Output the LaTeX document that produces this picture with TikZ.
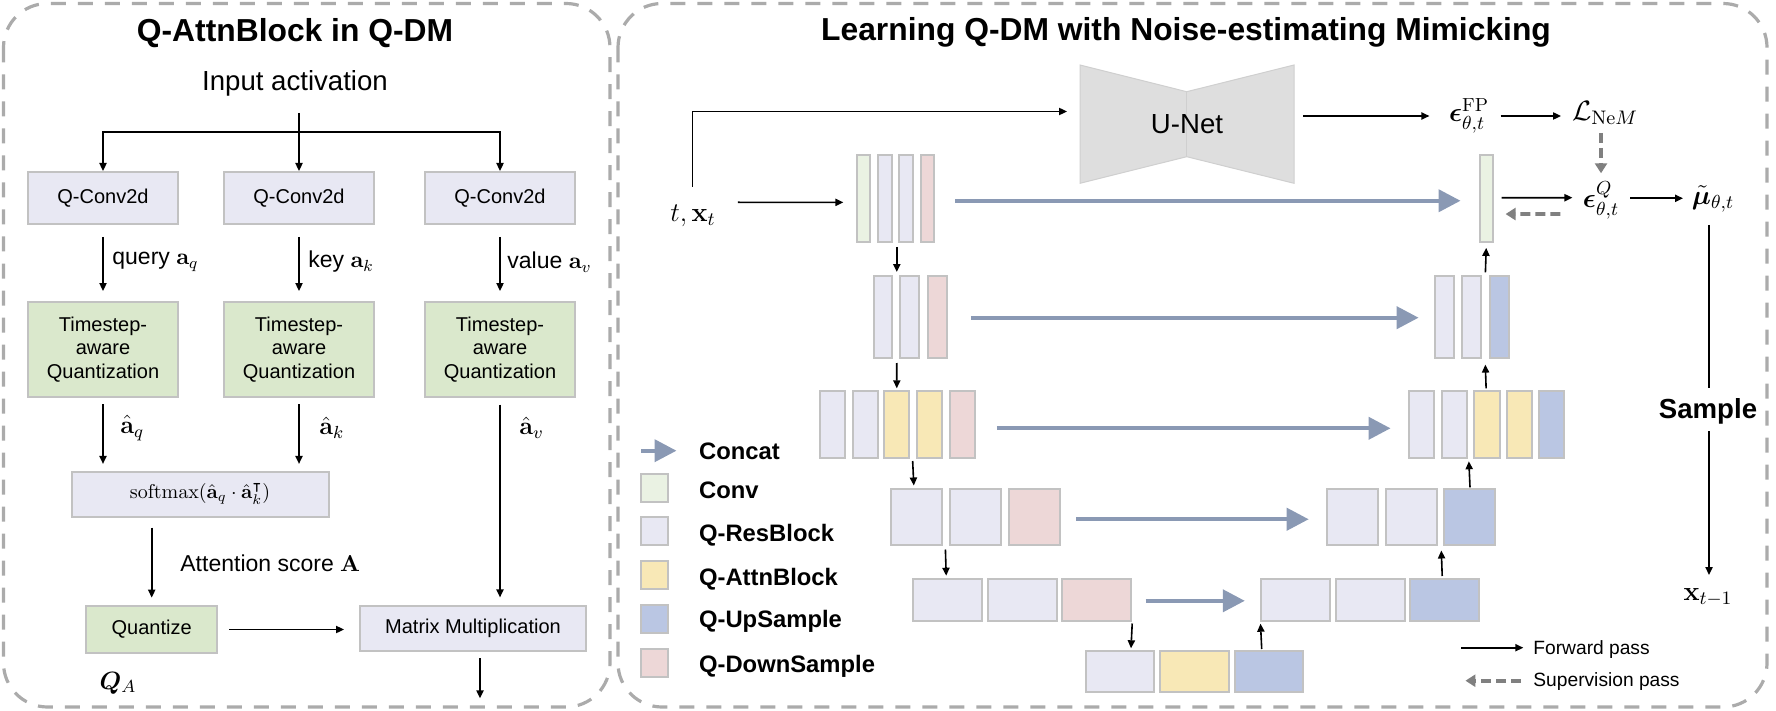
\RequirePackage{fix-cm}
\documentclass[tikz,border=0pt]{standalone}
\usepackage{amsmath,amssymb,bm}
\usepackage[no-math]{fontspec}
\setmainfont{Liberation Sans}
\usetikzlibrary{arrows.meta,calc}
\definecolor{bgray}{HTML}{C2C2C2}
\definecolor{pgray}{HTML}{ABABAB}
\definecolor{resc}{HTML}{E8E8F3}
\definecolor{convc}{HTML}{EAF2E3}
\definecolor{attnc}{HTML}{F8E8B6}
\definecolor{upc}{HTML}{BAC6E3}
\definecolor{downc}{HTML}{EDD7D7}
\definecolor{tqc}{HTML}{DAE8CC}
\definecolor{catc}{HTML}{8A99B4}
\definecolor{supc}{HTML}{808080}
\definecolor{unetc}{HTML}{DEDEDE}
\definecolor{unetl}{HTML}{CFCFCF}
\newcommand\ublk[6]{\node[blk,fill=#2,minimum width=#3pt,minimum height=#4pt] (#1) at (#5,#6) {};}
\begin{document}
\begin{tikzpicture}[x=0.5pt,y=-0.5pt,
  box/.style={draw=bgray,line width=1pt,inner sep=0pt,align=center,font=\fontsize{10}{11.75}\selectfont},
  blk/.style={draw=bgray,line width=1pt,inner sep=0pt},
  arr/.style={-{Triangle[length=4pt,width=3.6pt]},line width=0.8pt},
  ln/.style={line width=0.8pt},
  cat/.style={-{Triangle[length=11pt,width=11pt]},line width=2pt,draw=catc},
  sup/.style={-{Triangle[length=5pt,width=6pt]},line width=1.8pt,draw=supc,dash pattern=on 5pt off 2.5pt},
  panel/.style={draw=pgray,line width=1.6pt,dash pattern=on 7.5pt off 6pt,rounded corners=22pt},
  lbl/.style={inner sep=0pt,anchor=west,font=\fontsize{11.5}{13}\selectfont},
  ttl/.style={inner sep=0pt,font=\bfseries\fontsize{15.9}{18}\selectfont},
  mth/.style={inner sep=0pt,font=\fontsize{13.5}{15}\selectfont},
  leg/.style={inner sep=0pt,anchor=west,font=\bfseries\fontsize{11.9}{14}\selectfont},
  sleg/.style={inner sep=0pt,anchor=west,font=\fontsize{9.6}{11}\selectfont}]
\useasboundingbox (0,0) rectangle (1776,711);

% panels
\draw[panel] (3.5,3.5) rectangle (610,707);
\draw[panel] (618,3.5) rectangle (1767,707);

% ---------------- left panel ----------------
\node[ttl] (lt) at (295,33) {Q-AttnBlock in Q-DM};
\node[inner sep=0pt,font=\fontsize{13.8}{16}\selectfont] (inp) at (295,83) {Input activation};
\node[box,fill=resc,minimum width=75pt,minimum height=26pt] (cq) at (103,198) {Q-Conv2d};
\node[box,fill=resc,minimum width=75pt,minimum height=26pt] (ck) at (299,198) {Q-Conv2d};
\node[box,fill=resc,minimum width=75pt,minimum height=26pt] (cv) at (500,198) {Q-Conv2d};
\node[box,fill=tqc,minimum width=75pt,minimum height=47.5pt] (tq) at (103,349.5) {Timestep-\\aware\\Quantization};
\node[box,fill=tqc,minimum width=75pt,minimum height=47.5pt] (tk) at (299,349.5) {Timestep-\\aware\\Quantization};
\node[box,fill=tqc,minimum width=75pt,minimum height=47.5pt] (tv) at (500,349.5) {Timestep-\\aware\\Quantization};
\node[box,fill=resc,minimum width=128.5pt,minimum height=22.5pt] (sm) at (200,494) {$\mathrm{softmax}(\hat{\mathbf{a}}_q\cdot\hat{\mathbf{a}}_k^{\intercal})$};
\node[box,fill=tqc,minimum width=65.3pt,minimum height=23.5pt] (qz) at (151.7,629.5) {Quantize};
\node[box,fill=resc,minimum width=113pt,minimum height=22.5pt] (mm) at (473,628.5) {Matrix Multiplication};

\coordinate (sp) at (299,132);
\draw[ln] ($(inp)+(4,30)$) -- (sp);
\draw[arr] (sp) -| (cq.north);
\draw[arr] (sp) -- (ck.north);
\draw[arr] (sp) -| (cv.north);
\draw[arr,shorten <=6pt,shorten >=5pt] (cq) -- (tq);
\draw[arr,shorten <=6pt,shorten >=5pt] (ck) -- (tk);
\draw[arr,shorten <=6pt,shorten >=5pt] (cv) -- (tv);
\node[lbl] (lq) at (112,262) {query $\mathbf{a}_q$};
\node[lbl] (lk) at (308,262) {key $\mathbf{a}_k$};
\node[lbl] (lv) at (507,262) {value $\mathbf{a}_v$};
\draw[arr,shorten <=3pt,shorten >=3.3pt] (tq.south) -- (tq.south |- sm.north);
\draw[arr,shorten <=3pt,shorten >=3.3pt] (tk.south) -- (tk.south |- sm.north);
\draw[arr,shorten <=3.3pt,shorten >=3.8pt] (tv.south) -- (tv.south |- mm.north);
\node[inner sep=0pt,anchor=west,font=\fontsize{12.5}{14}\selectfont] (hq) at (120,428) {$\hat{\mathbf{a}}_q$};
\node[inner sep=0pt,anchor=west,font=\fontsize{12.5}{14}\selectfont] (hk) at (319,428) {$\hat{\mathbf{a}}_k$};
\node[inner sep=0pt,anchor=west,font=\fontsize{12.5}{14}\selectfont] (hv) at (519,428) {$\hat{\mathbf{a}}_v$};
\draw[arr,shorten <=5pt,shorten >=3.7pt] (qz.north |- sm.south) -- (qz.north);
\node[lbl] (as) at (180,563) {Attention score $\mathbf{A}$};
\draw[arr,shorten <=5.5pt,shorten >=7.5pt] (qz.east) -- (qz.east -| mm.west);
\coordinate (mo) at (480,698.3);
\draw[arr,shorten <=3pt] (mo |- mm.south) -- (mo);
\node[inner sep=0pt,font=\fontsize{12.5}{14}\selectfont] (qa) at (118,683) {$\bm{Q}_{A}$};

% ---------------- right panel ----------------
\node[ttl] (rt) at (1186,32) {Learning Q-DM with Noise-estimating Mimicking};
\node[mth] (tx) at (693,216) {$t,\mathbf{x}_t$};

% U-Net
\fill[unetc] (1080,65) -- (1186.7,91.7) -- (1294,65) -- (1294,183.3) -- (1186.7,156.7) -- (1080,183.3) -- cycle;
\draw[unetl,line width=0.5pt] (1080,65) -- (1186.7,91.7) -- (1294,65) -- (1294,183.3) -- (1186.7,156.7) -- (1080,183.3) -- cycle;
\draw[unetl,line width=0.5pt] (1186.7,91.7) -- (1186.7,156.7);
\node[inner sep=0pt,minimum width=107pt,minimum height=59pt,font=\fontsize{13.8}{16}\selectfont] (unet) at (1187,124.2) {U-Net};

% blocks: encoder
\ublk{e11}{convc}{6.75}{43.35}{863.5}{198.35}
\ublk{e12}{resc}{6.75}{43.35}{884.8}{198.35}
\ublk{e13}{resc}{6.75}{43.35}{906.2}{198.35}
\ublk{e14}{downc}{6.75}{43.35}{927.3}{198.35}
\ublk{e21}{resc}{9.4}{41.3}{883}{317}
\ublk{e22}{resc}{9.4}{41.3}{909.8}{317}
\ublk{e23}{downc}{9.4}{41.3}{937.6}{317}
\ublk{e31}{resc}{12.65}{33.8}{832.5}{424.5}
\ublk{e32}{resc}{12.65}{33.8}{865.2}{424.5}
\ublk{e33}{attnc}{12.65}{33.8}{896.8}{424.5}
\ublk{e34}{attnc}{12.65}{33.8}{929.4}{424.5}
\ublk{e35}{downc}{12.65}{33.8}{962.2}{424.5}
\ublk{e41}{resc}{25.5}{27.85}{916}{517.15}
\ublk{e42}{resc}{25.5}{27.85}{975.1}{517.15}
\ublk{e43}{downc}{25.5}{27.85}{1034}{517.15}
\ublk{e51}{resc}{34.5}{21}{947.4}{600}
\ublk{e52}{resc}{34.5}{21}{1022}{600}
\ublk{e53}{downc}{34.5}{21}{1096.7}{600}
% bottom
\ublk{b1}{resc}{34.25}{20.75}{1120.2}{671.25}
\ublk{b2}{attnc}{34.25}{20.75}{1194.7}{671.25}
\ublk{b3}{upc}{34.25}{20.75}{1268.8}{671.25}
% decoder
\ublk{d51}{resc}{34.5}{21}{1295.6}{600}
\ublk{d52}{resc}{34.5}{21}{1370}{600}
\ublk{d53}{upc}{34.5}{21}{1444.6}{600}
\ublk{d41}{resc}{25.5}{27.85}{1352.7}{517.15}
\ublk{d42}{resc}{25.5}{27.85}{1411}{517.15}
\ublk{d43}{upc}{25.5}{27.85}{1469.7}{517.15}
\ublk{d31}{resc}{12.65}{33.8}{1421.4}{424.5}
\ublk{d32}{resc}{12.65}{33.8}{1454.4}{424.5}
\ublk{d33}{attnc}{12.65}{33.8}{1487.1}{424.5}
\ublk{d34}{attnc}{12.65}{33.8}{1519.2}{424.5}
\ublk{d35}{upc}{12.65}{33.8}{1551.2}{424.5}
\ublk{d21}{resc}{9.4}{41.3}{1444.7}{317}
\ublk{d22}{resc}{9.4}{41.3}{1471.8}{317}
\ublk{d23}{upc}{9.4}{41.3}{1499.4}{317}
\ublk{d11}{convc}{6.75}{43.35}{1486.3}{198.35}

% concat arrows
\draw[cat] ($(e14.east)+(20,2.4)$) -- ($(d11.west)+(-18,2.4)$);
\draw[cat] ($(e23.east)+(22.8,0.7)$) -- ($(d21.west)+(-15.7,0.7)$);
\draw[cat] ($(e35.east)+(21,3.8)$) -- ($(d31.west)+(-17.2,3.8)$);
\draw[cat] ($(e43.east)+(15.5,2.1)$) -- ($(d41.west)+(-17.5,2.1)$);
\draw[cat] ($(e53.east)+(13.3,0.8)$) -- ($(d51.west)+(-15.3,0.8)$);

% vertical arrows
\draw[arr] ($(e13.south)+(-9.4,4.3)$) -- ($(e21.north)+(13.8,-2.7)$);
\draw[arr] ($(e22.south)+(-13.1,3.7)$) -- ($(e33.north)+(0,-1.4)$);
\draw[arr] ($(e34.south west)+(-3.1,1.7)$) -- ($(e41.north)+(-2.2,-2.8)$);
\draw[arr] ($(e42.south west)+(-3.2,3.5)$) -- ($(e51.north)+(-1.2,-2.3)$);
\draw[arr] ($(e53.south east)+(0,1.5)$) -- ($(b1.north)+(10.8,-1.2)$);
\draw[arr] ($(b3.north)+(-7.1,-0.5)$) -- ($(d51.south west)+(0.4,1.7)$);
\draw[arr] ($(d53.north)+(-2.4,-2)$) -- ($(d43.south west)+(-1.9,4.5)$);
\draw[arr] ($(d43.north)+(0.3,-1)$) -- ($(d33.south west)+(-4.6,2)$);
\draw[arr] ($(d33.north)+(-1,-1.4)$) -- ($(d23.south west)+(-3.7,5.3)$);
\draw[arr] ($(d23.north west)+(-3.6,-2.4)$) -- ($(d11.south)+(-0.1,5.2)$);

% inputs
\coordinate (tu) at (1067,111.5);
\draw[arr] ($(tx)+(-0.7,-29)$) |- (tu);
\draw[arr] ($(tx)+(44.8,-13.7)$) -- ($(e11.west)+(-12.4,4)$);

% outputs
\node[mth] (efp) at (1469,116) {$\bm{\epsilon}^{\mathrm{FP}}_{\theta,t}$};
\node[inner sep=0pt,font=\fontsize{14}{16}\selectfont] (lnem) at (1605,113) {$\mathcal{L}_{\mathrm{Ne}M}$};
\node[mth] (eq) at (1601,200) {$\bm{\epsilon}^{Q}_{\theta,t}$};
\node[mth] (mu) at (1713,199) {$\tilde{\bm{\mu}}_{\theta,t}$};
\node[inner sep=0pt,font=\bfseries\fontsize{13.8}{16}\selectfont] (samp) at (1708,411) {Sample};
\node[mth] (xt1) at (1708,597) {$\mathbf{x}_{t-1}$};

\draw[arr] ($(unet.east)+(9,-8.2)$) -- ($(efp)+(-39.6,0)$);
\draw[arr] ($(efp)+(31.5,0)$) -- ($(lnem)+(-44,3)$);
\draw[sup] ($(lnem)+(-4,20)$) -- ($(eq)+(0,-26.7)$);
\draw[arr] ($(d11.east)+(7.5,-0.6)$) -- ($(eq)+(-28.6,-2.3)$);
\draw[sup] ($(eq)+(-40.6,14)$) -- ($(d11.east)+(11.5,15.7)$);
\draw[arr] ($(eq)+(29,-1.7)$) -- ($(mu)+(-30,-0.7)$);
\draw[ln] ($(mu)+(-4,26)$) -- ($(samp)+(1,-23)$);
\draw[arr] ($(samp)+(1,20)$) -- ($(xt1)+(1,-22)$);

% legend
\coordinate (lca) at (641,450.7);
\draw[cat] (lca) -- ++(35.5,0);
\node[leg] (l1) at (698.7,451.7) {Concat};
\node[blk,fill=convc,minimum width=13.5pt,minimum height=14pt] (s2) at (654.5,487.5) {};
\node[leg] (l2) at (698.7,490.7) {Conv};
\node[blk,fill=resc,minimum width=13.5pt,minimum height=14pt] (s3) at (654.5,531.3) {};
\node[leg] (l3) at (698.7,535) {Q-ResBlock};
\node[blk,fill=attnc,minimum width=13.5pt,minimum height=14pt] (s4) at (654.5,575) {};
\node[leg] (l4) at (698.7,579.3) {Q-AttnBlock};
\node[blk,fill=upc,minimum width=13.5pt,minimum height=14pt] (s5) at (654.5,619) {};
\node[leg] (l5) at (698.7,621.7) {Q-UpSample};
\node[blk,fill=downc,minimum width=13.5pt,minimum height=14pt] (s6) at (654.5,663) {};
\node[leg] (l6) at (698.7,666) {Q-DownSample};

\coordinate (fpa) at (1461.4,647.7);
\draw[arr] (fpa) -- ++(61.9,0);
\node[sleg] (f1) at (1533,650) {Forward pass};
\coordinate (spa) at (1521,680.7);
\draw[sup] (spa) -- ++(-55.6,0);
\node[sleg] (f2) at (1533,681.7) {Supervision pass};
\end{tikzpicture}
\end{document}
